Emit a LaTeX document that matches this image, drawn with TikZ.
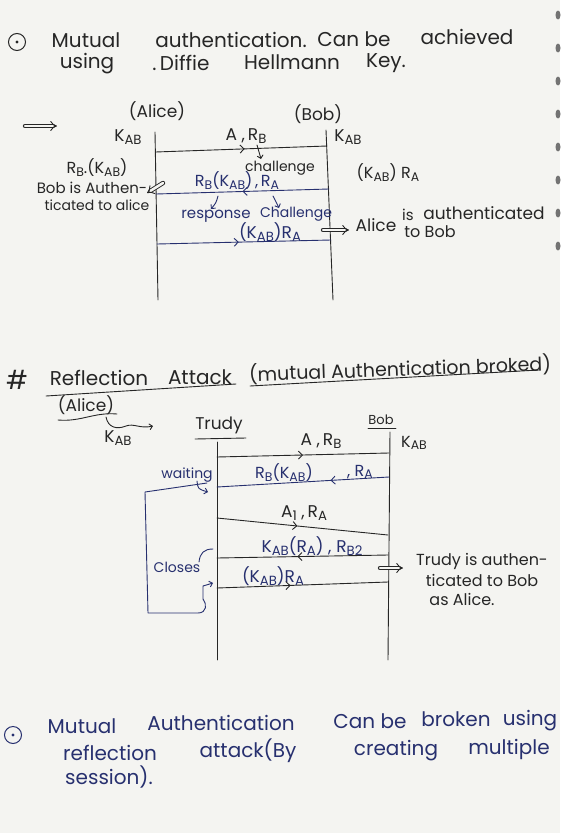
\documentclass[tikz,border=0pt]{standalone}
\usepackage{fontspec}
\setmainfont{Poppins}
\usetikzlibrary{arrows.meta,decorations.markings}
\definecolor{paper}{HTML}{F4F4F1}
\definecolor{inkk}{HTML}{262626}
\definecolor{inkb}{HTML}{27306F}
\newcommand\sbk[1]{\raisebox{-0.3ex}{\scalebox{0.78}{#1}}}
\begin{document}
\begin{tikzpicture}[x=1pt,y=-1pt,
  tx/.style={inner sep=0pt, anchor=center, text=inkk, font=\fontsize{#1}{#1}\selectfont},
  tx/.default=14,
  bx/.style={tx=#1, text=inkb},
  bx/.default=14,
  kline/.style={draw=inkk, line width=0.9pt, line cap=round, line join=round},
  bline/.style={draw=inkb, line width=0.9pt, line cap=round, line join=round},
  midarrow/.style={postaction={decorate}, decoration={markings, mark=at position #1 with {\arrow{Straight Barb[length=4pt,width=8pt]}}}},
  smallarr/.style={-{Straight Barb[length=3pt,width=6pt]}},
  implarrow/.style={double, double distance=2.6pt, double=paper, -{Implies}},
  hole/.style={fill=black!55}
]
\useasboundingbox (0,0) rectangle (560,833);
\fill[paper] (0,0) rectangle (560,833);

% notebook holes on right edge
\foreach \yy in {15,48,81,114,147,180,213,246}{
  \fill[hole] (558,\yy) ellipse [x radius=2.5, y radius=4.5];
}

% ---------- heading 1 ----------
\node[draw=inkk, line width=1pt, circle, minimum size=17pt, inner sep=0pt] (bul1) at (17,42) {};
\fill[inkk] (bul1.center) circle [radius=1.6];
\node[tx=20] (t1a) at (86,40) {Mutual};
\node[tx=20] (t1b) at (231,40) {authentication.};
\node[tx=20] (t1c) at (354,39) {Can be};
\node[tx=20] (t1d) at (467,37) {achieved};
\node[tx=20] (t2a) at (87,64) {using};
\node[tx=20] (t2b) at (181,63) {.\,Diffie};
\node[tx=20] (t2c) at (292,62) {Hellmann};
\node[tx=20] (t2d) at (386,63) {Key.};

% ---------- diagram 1 ----------
\coordinate (imp1a) at (25,126);
\coordinate (imp1b) at (57,126);
\draw[kline, implarrow] (imp1a) -- (imp1b);

\node[tx=17] (alice1) at (157,111) {(Alice)};
\node[tx=17] (bob1) at (318,114) {(Bob)};
\node[tx=17] (kabL1) at (128,137) {K\sbk{AB}};
\node[tx=17] (kabR1) at (348,137) {K\sbk{AB}};

\coordinate (a1top) at (155,132);
\coordinate (a1bot) at (158,300);
\coordinate (b1top) at (326,130);
\coordinate (b1bot) at (333,300);
\draw[kline] (a1top) -- (a1bot);
\draw[kline] (b1top) -- (b1bot);

\node[tx=17] (l11) at (246,136) {A\;,\,R\sbk{B}};
\coordinate (m11a) at (155.5,152);
\coordinate (m11b) at (327,146);
\draw[kline, midarrow=0.52] (m11a) -- (m11b);
\coordinate (c1a) at (257,145);
\coordinate (c1b) at (261,159);
\draw[kline, smallarr] (c1a) .. controls (259,151) .. (c1b);
\node[tx=14] (chal1) at (280,168) {challenge};

\node[tx=16] (rbkab) at (97,168) {R\sbk{B}.(K\sbk{AB})};
\node[tx=16] (kabra) at (388,173) {(K\sbk{AB}) R\sbk{A}};

\node[bx=16] (l12) at (237,181) {R\sbk{B}(K\sbk{AB})\,,\,R\sbk{A}};
\coordinate (m12a) at (329,189);
\coordinate (m12b) at (156,194);
\draw[bline, midarrow=0.50] (m12a) -- (m12b);

\node[tx=15] (bobauth1) at (92,188) {Bob is Authen-};
\node[tx=14] (bobauth2) at (97,205) {ticated to alice};
\coordinate (h1a) at (163,183);
\coordinate (h1b) at (147,193);
\draw[kline, implarrow] (h1a) -- (h1b);

\coordinate (r1a) at (218,196);
\coordinate (r1b) at (211,209);
\draw[bline, smallarr] (r1a) .. controls (216,203) .. (r1b);
\coordinate (r2a) at (273,196);
\coordinate (r2b) at (279,208);
\draw[bline, smallarr] (r2a) .. controls (276,201) .. (r2b);
\node[bx=15] (resp1) at (216,216) {response};
\node[bx=14] (chal2) at (296,214) {Challenge};

\node[bx=17] (l13) at (270,232) {(K\sbk{AB})R\sbk{A}};
\coordinate (m13a) at (157,244);
\coordinate (m13b) at (331,240);
\draw[bline, midarrow=0.47] (m13a) -- (m13b);

\coordinate (imp2a) at (323,230);
\coordinate (imp2b) at (349,230);
\draw[kline, implarrow] (imp2a) -- (imp2b);
\node[tx=17] (aa1) at (376,225) {Alice};
\node[tx=15] (aa2) at (408,215) {is};
\node[tx=17] (aa3) at (484,213) {authenticated};
\node[tx=16] (aa4) at (430,232) {to Bob};

% ---------- heading 2 ----------
\node[tx=26] (hash) at (17,380) {\#};
\node[tx=20] (refl) at (99,378) {Reflection};
\node[tx=20] (att) at (200,377) {Attack};
\node[tx=19, rotate=2] (mab) at (400,369) {(mutual Authentication broked)};
\coordinate (u1a) at (46,396);
\coordinate (u1b) at (236,384);
\draw[kline] (u1a) -- (u1b);
\coordinate (u2a) at (250,386);
\coordinate (u2b) at (539,370);
\draw[kline] (u2a) -- (u2b);

% ---------- diagram 2 ----------
\node[tx=17] (alice2) at (86,405) {(Alice)};
\coordinate (ua1) at (58,420);
\coordinate (ua2) at (117,414);
\draw[kline] (ua1) to[out=-5,in=175] (ua2);
\coordinate (sq1) at (106,417);
\coordinate (sq2) at (153,426);
\draw[kline, smallarr] (sq1) .. controls (108,427) and (116,430) .. (126,426) .. controls (134,423) and (140,429) .. (sq2);
\node[tx=17] (kabL2) at (118,438) {K\sbk{AB}};

\node[tx=17] (trudy) at (219,425) {Trudy};
\coordinate (ut1) at (195,439);
\coordinate (ut2) at (246,438);
\draw[kline] (ut1) -- (ut2);
\node[tx=13] (bob2) at (381,420) {Bob};
\coordinate (ub1) at (368,428);
\coordinate (ub2) at (396,428);
\draw[kline] (ub1) -- (ub2);
\node[tx=16] (kabR2) at (414,443) {K\sbk{AB}};

\coordinate (ttop) at (217,442);
\coordinate (tbot) at (217,660);
\coordinate (b2top) at (390,432);
\coordinate (b2bot) at (388,660);
\draw[kline] (ttop) -- (tbot);
\draw[kline] (b2top) -- (b2bot);

\node[tx=17] (l21) at (321,441) {A\;,\,R\sbk{B}};
\coordinate (m21a) at (217,457);
\coordinate (m21b) at (389,453);
\draw[kline, midarrow=0.50] (m21a) -- (m21b);

\node[bx=14] (wait) at (187,475) {waiting};
\coordinate (w1a) at (197,481);
\coordinate (w1b) at (208,492);
\draw[bline, smallarr] (w1a) .. controls (198,489) .. (w1b);

\node[bx=16] (l22a) at (284,473) {R\sbk{B}(K\sbk{AB})};
\node[bx=16] (l22b) at (360,472) {, R\sbk{A}};
\coordinate (m22a) at (389,477);
\coordinate (m22b) at (217,487);
\draw[bline, midarrow=0.34] (m22a) -- (m22b);

\node[tx=17] (l23) at (304,513) {A\sbk{1}\;,\,R\sbk{A}};
\coordinate (m23a) at (217,518);
\coordinate (m23b) at (388,535);
\draw[kline, midarrow=0.47] (m23a) -- (m23b);

\node[bx=17] (l24) at (312,546) {K\sbk{AB}(R\sbk{A})\;,\;R\sbk{B2}};
\coordinate (m24a) at (388,555);
\coordinate (m24b) at (217,558);
\draw[kline, midarrow=0.53] (m24a) -- (m24b);

\node[bx=17] (l25) at (273,576) {(K\sbk{AB})R\sbk{A}};
\coordinate (m25a) at (217,588);
\coordinate (m25b) at (388,582);
\draw[kline, midarrow=0.43] (m25a) -- (m25b);

\node[bx=14] (closes) at (177,567) {Closes};
\coordinate (cl1) at (213,549);
\coordinate (cl2) at (199,562);
\draw[bline] (cl1) .. controls (204,549) and (200,553) .. (cl2);

\coordinate (br1) at (207,483);
\coordinate (br2) at (145,492);
\coordinate (br3) at (148,613);
\coordinate (br4) at (198,613);
\coordinate (br5) at (203,586);
\coordinate (br6) at (213,583);
\draw[bline, smallarr] (br1) -- (br2) -- (br3) -- (br4)
  .. controls (207,613) and (207,604) .. (203,599) -- (br5) -- (br6);

\coordinate (imp3a) at (380,568);
\coordinate (imp3b) at (403,568);
\draw[kline, implarrow] (imp3a) -- (imp3b);
\node[tx=16] (tr1) at (482,561) {Trudy is authen-};
\node[tx=16] (tr2) at (482,580) {ticated to Bob};
\node[tx=16] (tr3) at (462,599) {as Alice.};

% ---------- bottom note ----------
\node[draw=inkb, line width=1pt, circle, minimum size=17pt, inner sep=0pt] (bul2) at (13,735) {};
\fill[inkb] (bul2.center) circle [radius=1.6];
\node[bx=20] (b1a) at (82,726) {Mutual};
\node[bx=20] (b1b) at (221,723) {Authentication};
\node[bx=20] (b1c) at (370,721) {Can be};
\node[bx=20] (b1d) at (456,719) {broken};
\node[bx=20] (b1e) at (530,721) {using};
\node[bx=20] (b2a) at (110,753) {reflection};
\node[bx=20] (b2b) at (248,751) {attack(By};
\node[bx=20] (b2c) at (396,751) {creating};
\node[bx=20] (b2d) at (509,749) {multiple};
\node[bx=20] (b3a) at (109,777) {session).};
\end{tikzpicture}
\end{document}
